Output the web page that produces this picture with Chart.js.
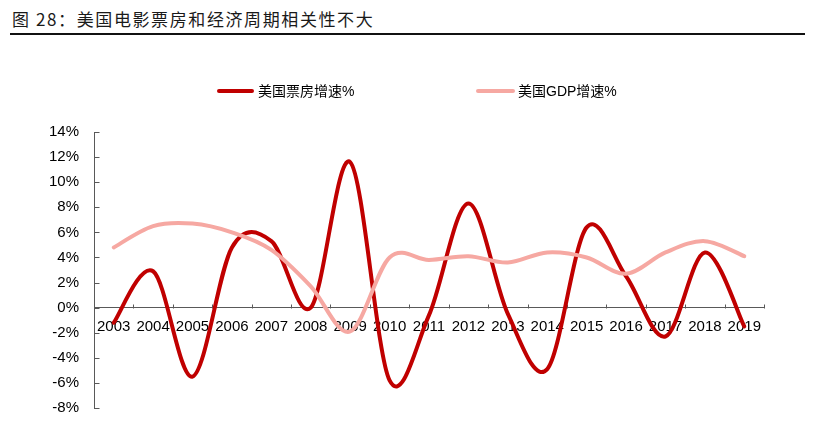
<!DOCTYPE html>
<html>
<head>
<meta charset="utf-8">
<script src="https://cdn.jsdelivr.net/npm/chart.js@4.4.1/dist/chart.umd.min.js"></script>
<style>
  html, body { margin: 0; padding: 0; background: #fff; }
  #wrap { position: relative; width: 816px; height: 442px; overflow: hidden; background: #fff; }
  #c { position: absolute; left: 0; top: 0; }
  #title { position: absolute; left: 12px; top: 6px; font-family: 'Noto Sans CJK SC', sans-serif; font-size: 17px; letter-spacing: 1.6px; color: #1a1a1a; white-space: nowrap; }
  #rule { position: absolute; left: 10px; top: 33px; width: 795px; height: 2px; background: #111; }
  .leg { position: absolute; top: 82px; height: 18px; font-family: 'Liberation Sans', 'Noto Sans CJK SC', sans-serif; font-size: 14px; color: #000; white-space: nowrap; line-height: 18px; }
  .leg i { position: absolute; top: 7px; height: 4px; border-radius: 2px; }
  .leg span { position: absolute; top: 0; }
</style>
</head>
<body>
<div id="wrap">
  <div id="title">图 28：美国电影票房和经济周期相关性不大</div>
  <div id="rule"></div>
  <canvas id="c" width="816" height="442"></canvas>
  <div class="leg" id="leg1" style="left:217px;"><i style="left:0;width:37px;background:#C00000;"></i><span style="left:41px;"></span></div>
  <div class="leg" id="leg2" style="left:476px;"><i style="left:0;width:39px;background:#F6A8A2;"></i><span style="left:42px;"></span></div>
</div>
<script>
const years = ['2003','2004','2005','2006','2007','2008','2009','2010','2011','2012','2013','2014','2015','2016','2017','2018','2019'];
const boxOfficeGrowth = [-1.2, 2.9, -5.5, 4.8, 5.3, 0.0, 11.6, -5.8, -0.6, 8.3, -0.5, -4.9, 6.4, 2.5, -2.3, 4.4, -1.5];
const gdpGrowth = [4.8, 6.5, 6.7, 6.0, 4.6, 1.7, -1.9, 4.0, 3.8, 4.1, 3.6, 4.4, 4.0, 2.7, 4.4, 5.3, 4.1];
const seriesNames = ['美国票房增速%', '美国GDP增速%'];
const yTicks = [-8, -6, -4, -2, 0, 2, 4, 6, 8, 10, 12, 14];

document.querySelector('#leg1 span').textContent = seriesNames[0];
document.querySelector('#leg2 span').textContent = seriesNames[1];

const AXIS = '#595959';

// Excel-style smoothed line: Catmull-Rom control points (1/6 rule)
const excelSmooth = {
  id: 'excelSmooth',
  beforeDatasetDraw(chart, args) {
    const meta = args.meta;
    const line = meta.dataset;
    line.updateControlPoints(chart.chartArea, 'x');
    const pts = meta.data;
    const n = pts.length;
    const f = 1 / 6;
    for (let i = 0; i < n; i++) {
      const p = pts[i];
      const prev = pts[Math.max(i - 1, 0)];
      const next = pts[Math.min(i + 1, n - 1)];
      const dx = (next.x - prev.x) * f, dy = (next.y - prev.y) * f;
      p.cp1x = p.x - dx; p.cp1y = p.y - dy;
      p.cp2x = p.x + dx; p.cp2y = p.y + dy;
    }
    line._path = undefined;
  }
};

// inward tick marks like the reference
const inTicks = {
  id: 'inTicks',
  beforeDatasetsDraw(chart) {
    const { ctx, scales: { x, y } } = chart;
    ctx.save();
    ctx.strokeStyle = AXIS;
    ctx.lineWidth = 1;
    ctx.beginPath();
    const y0 = Math.round(y.getPixelForValue(0)) + 0.5;
    for (let i = 0; i <= years.length; i++) {
      const px = Math.round(x.getPixelForValue(i - 0.5)) + 0.5;
      ctx.moveTo(px, y0); ctx.lineTo(px, y0 - 4);
    }
    const ax = Math.round(y.right) + 0.5;
    yTicks.forEach(v => {
      const py = Math.round(y.getPixelForValue(v)) + 0.5;
      ctx.moveTo(ax, py); ctx.lineTo(ax + 5, py);
    });
    ctx.stroke();
    ctx.restore();
  }
};

new Chart(document.getElementById('c'), {
  type: 'line',
  data: {
    labels: years,
    datasets: [
      { label: seriesNames[0], data: boxOfficeGrowth, borderColor: '#C00000', borderWidth: 4, pointRadius: 0, tension: 0.4, fill: false, order: 1, borderCapStyle: 'round', borderJoinStyle: 'round' },
      { label: seriesNames[1], data: gdpGrowth, borderColor: '#F6A8A2', borderWidth: 4, pointRadius: 0, tension: 0.4, fill: false, order: 0, borderCapStyle: 'round', borderJoinStyle: 'round' }
    ]
  },
  options: {
    responsive: false,
    devicePixelRatio: 1,
    animation: false,
    layout: { padding: { left: 0, top: 132, right: 52, bottom: 34 } },
    plugins: { legend: { display: false }, title: { display: false }, tooltip: { enabled: false } },
    scales: {
      x: {
        type: 'category',
        offset: true,
        position: { y: 0 },
        grid: { display: false, drawTicks: false },
        border: { display: true, color: AXIS, width: 1 },
        ticks: { autoSkip: false, maxRotation: 0, minRotation: 0, padding: 10, color: '#000', font: { family: 'Liberation Sans', size: 15 } },
        afterFit(s) { s.height = 0; }
      },
      y: {
        min: -8, max: 14,
        afterBuildTicks(s) { s.ticks = yTicks.map(v => ({ value: v })); },
        grid: { display: false, drawTicks: false },
        border: { display: true, color: AXIS, width: 1 },
        ticks: { padding: 15, color: '#000', font: { family: 'Liberation Sans', size: 15 }, callback: v => v + '%' },
        afterFit(s) { s.width = 94; }
      }
    }
  },
  plugins: [excelSmooth, inTicks]
});
</script>
</body>
</html>
